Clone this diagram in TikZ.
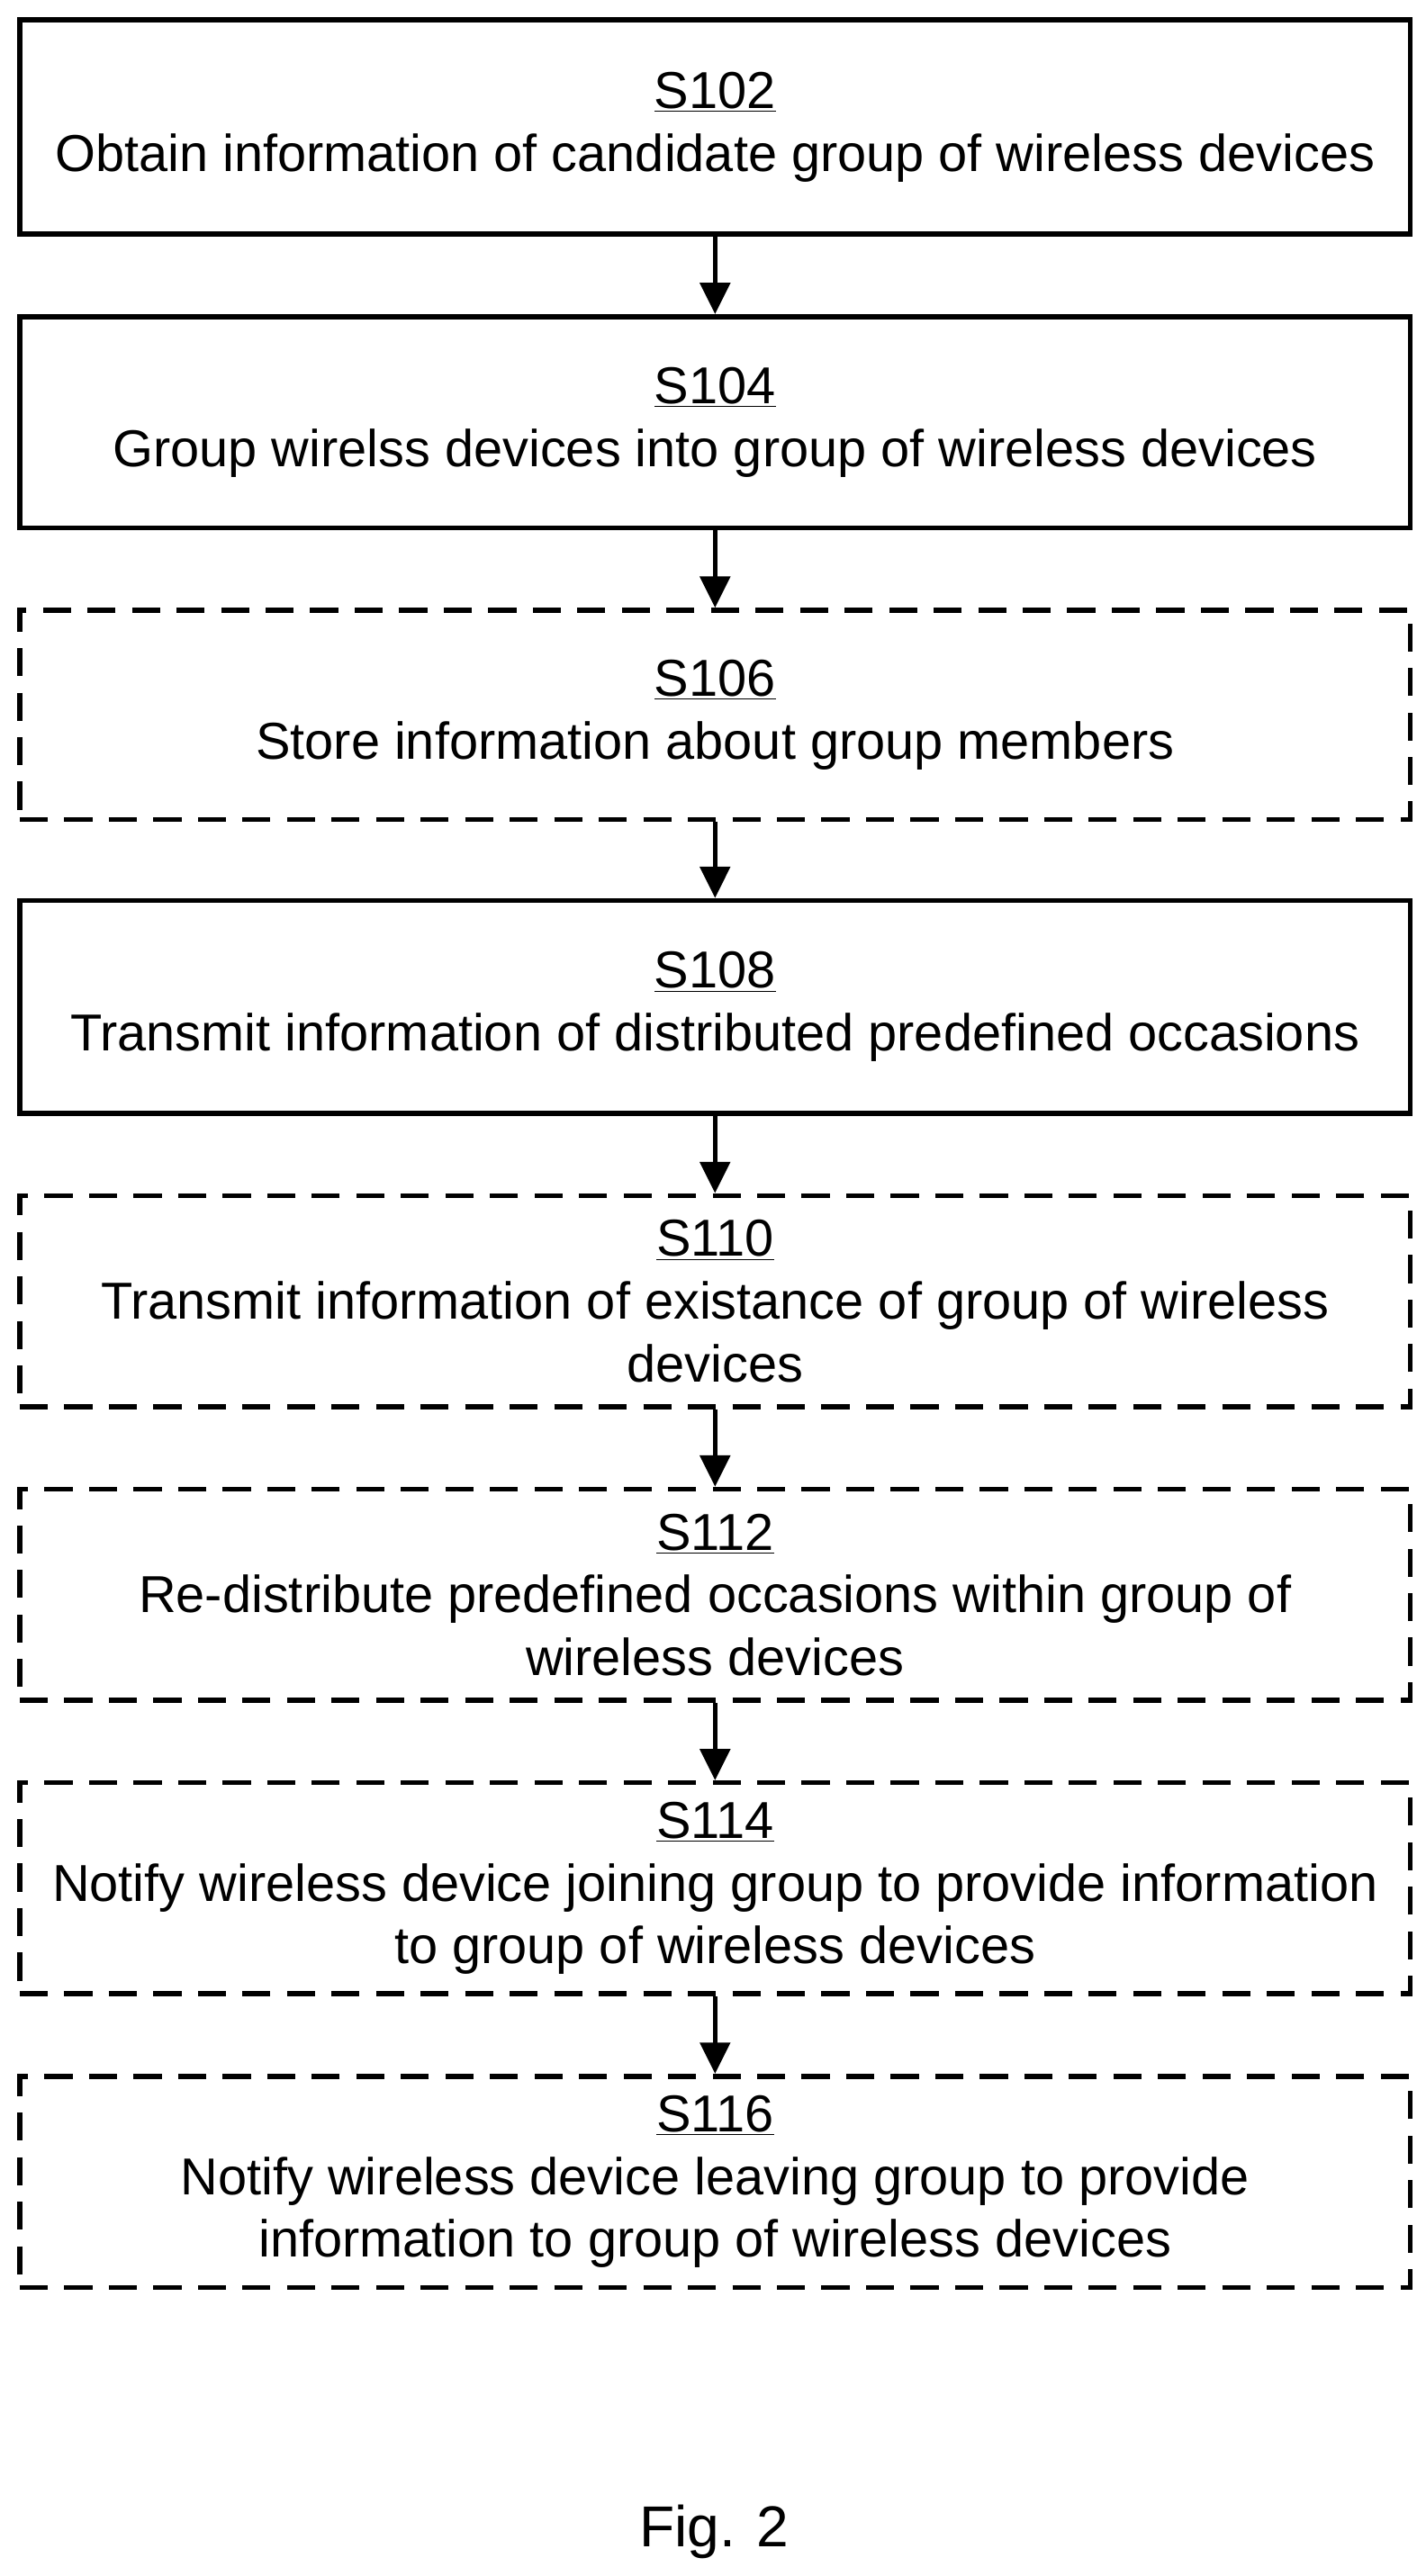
\documentclass[tikz,border=0pt]{standalone}
\usepackage{fontspec}
\setmainfont{Liberation Sans}
\usetikzlibrary{arrows.meta}
\begin{document}
\begin{tikzpicture}[x=1pt,y=-1pt,
  box/.style={draw,line width=3pt,minimum width=843pt,align=center,inner sep=0pt,font=\fontsize{31.5}{38}\selectfont},
  dbox/.style={box,dash pattern=on 17pt off 10pt},
  arr/.style={line width=3pt,-{Triangle[length=19pt,width=18pt]}}]
\useasboundingbox (0,0) rectangle (864,1562);
\node[box,minimum height=130pt] (s102) at (433.5,77) {\underline{S102}\\Obtain information of candidate group of wireless devices};
\node[box,minimum height=128pt] (s104) at (433.5,256) {\underline{S104}\\Group wirelss devices into group of wireless devices};
\node[dbox,minimum height=127pt] (s106) at (433.5,433.5) {\underline{S106}\\Store information about group members};
\node[box,minimum height=129pt] (s108) at (433.5,610.5) {\underline{S108}\\Transmit information of distributed predefined occasions};
\node[dbox,minimum height=128pt] (s110) at (433.5,789) {\underline{S110}\\Transmit information of existance of group of wireless\\devices};
\node[dbox,minimum height=128pt] (s112) at (433.5,967) {\underline{S112}\\Re-distribute predefined occasions within group of\\wireless devices};
\node[dbox,minimum height=128pt] (s114) at (433.5,1145) {\underline{S114}\\Notify wireless device joining group to provide information\\to group of wireless devices};
\node[dbox,minimum height=128pt] (s116) at (433.5,1323) {\underline{S116}\\Notify wireless device leaving group to provide\\information to group of wireless devices};
\node[font=\fontsize{35}{40}\selectfont] (fig) at (433,1535) {Fig. 2};
\foreach \a/\b in {s102/s104,s104/s106,s106/s108,s108/s110,s110/s112,s112/s114,s114/s116}
  \draw[arr] (\a.south) -- (\b.north);
\end{tikzpicture}
\end{document}
